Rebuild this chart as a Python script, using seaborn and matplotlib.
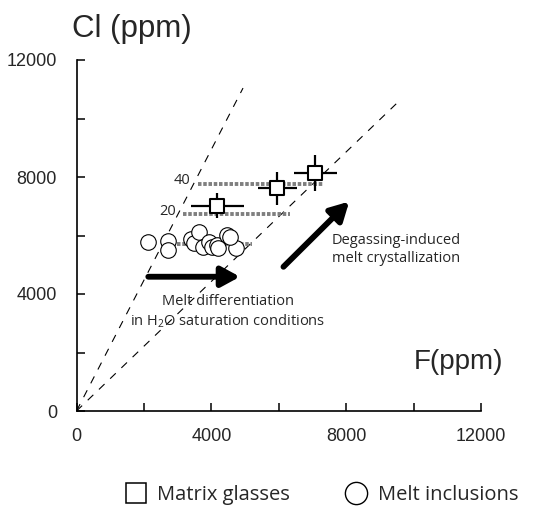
import numpy as np
import pandas as pd
import matplotlib
matplotlib.use("Agg")
import matplotlib.pyplot as plt
from matplotlib.lines import Line2D
import seaborn as sns

# ---------------- data ----------------
matrix_f = [4180, 5960, 7080]
matrix_cl = [7020, 7610, 8130]
matrix_f_err = [790, 570, 640]
matrix_cl_err = [430, 570, 620]

incl_f = [2110, 2710, 2720, 3400, 3490, 3640, 3740, 3930, 4010, 4160, 4460, 4210, 4730, 4550]
incl_cl = [5770, 5810, 5490, 5880, 5740, 6130, 5620, 5790, 5620, 5680, 6020, 5560, 5580, 5950]

# reference ratio lines (start, end)
steep_line_f = [0, 4940]
steep_line_cl = [0, 11040]
shallow_line_f = [0, 9510]
shallow_line_cl = [0, 10530]

# gray dotted levels
dot_levels_cl = [7760, 6725, 5700]
dot_start_f = [3600, 3170, 2970]
dot_end_f = [7340, 6330, 5200]
dot_labels = ["40", "20", ""]

# arrows
arrow_h_f = [2130, 4850]
arrow_h_cl = [4590, 4590]
arrow_d_f = [6140, 8090]
arrow_d_cl = [4930, 7160]

ticks = [0, 2000, 4000, 6000, 8000, 10000, 12000]
tick_labels = ["0", "", "4000", "", "8000", "", "12000"]

# ---------------- style ----------------
sns.set_style("ticks")
plt.rcParams["font.family"] = ["Liberation Sans", "DejaVu Sans"]
plt.rcParams["mathtext.fontset"] = "custom"
plt.rcParams["mathtext.rm"] = "Open Sans"

fig = plt.figure(figsize=(5.37, 5.08), dpi=100)
ax = fig.add_axes([76.5 / 537, 1 - 411 / 508, 404.5 / 537, 351 / 508])

# dashed ratio lines
ax.plot(steep_line_f, steep_line_cl, color="black", lw=0.8, ls=(0, (7, 7)), zorder=1)
ax.plot(shallow_line_f, shallow_line_cl, color="black", lw=0.8, ls=(0, (7, 7)), zorder=1)

# gray dotted lines
for cl, f0, f1, lab in zip(dot_levels_cl, dot_start_f, dot_end_f, dot_labels):
    ax.plot([f0, f1], [cl, cl], color="#7f7f7f", lw=2.8, ls=(0, (0.9, 0.45)),
            solid_capstyle="butt", dash_capstyle="butt", zorder=2)
    if lab:
        ax.text(f0 - 230, cl + 110, lab, ha="right", va="center", fontsize=10.5,
                family=["Open Sans", "DejaVu Sans"])

# melt inclusions
df_incl = pd.DataFrame({"F": incl_f, "Cl": incl_cl})
sns.scatterplot(data=df_incl, x="F", y="Cl", ax=ax, marker="o", s=125,
                facecolor="white", edgecolor="black", linewidth=0.8, zorder=3)

# matrix glasses with error bars
ax.errorbar(matrix_f, matrix_cl, xerr=matrix_f_err, yerr=matrix_cl_err, fmt="none",
            ecolor="black", elinewidth=1.6, capsize=0, zorder=4)
df_mat = pd.DataFrame({"F": matrix_f, "Cl": matrix_cl})
sns.scatterplot(data=df_mat, x="F", y="Cl", ax=ax, marker="s", s=105,
                facecolor="white", edgecolor="black", linewidth=1.5, zorder=5)

# arrows
arrow_props = dict(arrowstyle="-|>,head_length=0.55,head_width=0.3", lw=4.2,
                   color="black", mutation_scale=20, shrinkA=0, shrinkB=0)
ax.annotate("", xy=(arrow_h_f[1], arrow_h_cl[1]), xytext=(arrow_h_f[0], arrow_h_cl[0]),
            arrowprops=arrow_props, zorder=6)
ax.annotate("", xy=(arrow_d_f[1], arrow_d_cl[1]), xytext=(arrow_d_f[0], arrow_d_cl[0]),
            arrowprops=arrow_props, zorder=6)

# annotation texts
ax.text(4480, 3380, "Melt differentiation\nin H$_\\mathregular{2}$O saturation conditions",
        ha="center", va="center", fontsize=10.5, linespacing=1.2,
        family=["Open Sans", "DejaVu Sans"])
ax.text(9490, 5530, "Degassing-induced\nmelt crystallization",
        ha="center", va="center", fontsize=10.5, linespacing=1.3,
        family=["Open Sans", "DejaVu Sans"])

# axes
ax.set_xlim(0, 12000)
ax.set_ylim(0, 12000)
ax.set_xticks(ticks)
ax.set_xticklabels(tick_labels)
ax.set_yticks(ticks)
ax.set_yticklabels(tick_labels)
ax.set_xlabel("")
ax.set_ylabel("")
ax.tick_params(direction="in", length=6, width=1.1, labelsize=13, color="black")
ax.tick_params(axis="x", pad=12)
ax.tick_params(axis="y", pad=14)
for s in ["top", "right"]:
    ax.spines[s].set_visible(False)
for s in ["left", "bottom"]:
    ax.spines[s].set_linewidth(1.2)
    ax.spines[s].set_color("black")
ax.patch.set_alpha(0)

fig.text(72 / 537, 1 - 37 / 508, "Cl (ppm)", fontsize=22.5, ha="left", va="baseline")
fig.text(414 / 537, 1 - 369 / 508, "F(ppm)", fontsize=20, ha="left", va="baseline")

# legend
handles = [
    Line2D([], [], ls="none", marker="s", markersize=14, markerfacecolor="white",
           markeredgecolor="black", markeredgewidth=1.1),
    Line2D([], [], ls="none", marker="o", markersize=16, markerfacecolor="white",
           markeredgecolor="black", markeredgewidth=1.0),
]
fig.legend(handles, ["Matrix glasses", "Melt inclusions"], loc="center",
           bbox_to_anchor=(322 / 537, 1 - 495 / 508), ncol=2, frameon=False,
           handlelength=1.0, handletextpad=0.55, columnspacing=2.8,
           prop={"family": ["Open Sans", "DejaVu Sans"], "size": 14.5})

fig.savefig("out.png", dpi=100)
